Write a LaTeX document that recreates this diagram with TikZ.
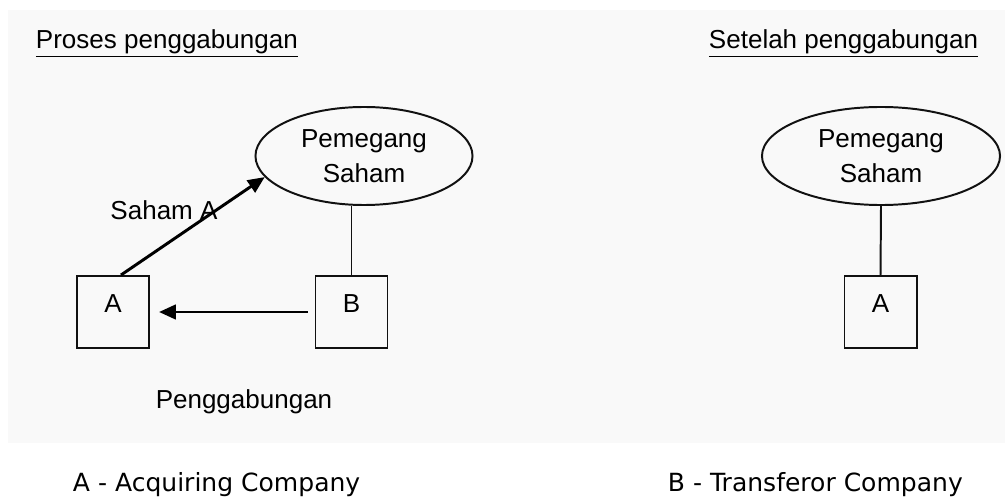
\documentclass[tikz,border=0pt]{standalone}
\usepackage{fontspec}
\setmainfont{Liberation Sans}
\newfontfamily\capfont{DejaVu Sans}
\usetikzlibrary{arrows.meta, positioning, shapes.geometric}
\definecolor{cbg}{HTML}{F9F9F9}
\definecolor{cline}{HTML}{111111}
\tikzset{
  every picture/.style={line width=1.4pt},
  box/.style={draw=cline, rectangle, minimum size=1.8cm, inner sep=0pt, text depth=0.4cm},
  holder/.style={draw=cline, ellipse, minimum height=2.45cm, inner sep=0pt, align=center},
  arrow/.style={-{Triangle[length=0.42cm, width=0.36cm]}, draw=black, line width=2.1pt},
  title/.style={inner sep=0pt, anchor=base west},
  caption/.style={font=\capfont\fontsize{17.8}{20}\selectfont, inner sep=0pt, anchor=west},
}

\begin{document}
\begin{tikzpicture}[x=0.025cm, y=-0.025cm, every node/.append style={font=\fontsize{18.5}{24.8}\selectfont}]
  \useasboundingbox (0,0) rectangle (1005,498);
  \fill[cbg] (8,10) rectangle (1005,443);
  % before the merger
  \node[title] (tproses) at (35,49) {\underline{Proses penggabungan}};
  \node[holder, minimum width=5.425cm] (pl) at (364,156) {Pemegang\\Saham};
  \node[box] (ca) at (113,312) {A};
  \node[box] (cb) at (351.5,312) {B};
  \draw[cline] (cb.north) -- (cb.north |- pl.south);
  \draw[arrow] ([xshift=0.2cm]ca.north) -- (pl.192);
  \draw[arrow, shorten <=0.175cm, shorten >=0.225cm] (cb.west) -- (ca.east);
  \node (lsaham) at (164,210) {Saham A};
  \node (lgabung) at (244,402) {Penggabungan};
  % after the merger
  \node[title] (tsetelah) at (708,49) {\underline{Setelah penggabungan}};
  \node[holder, minimum width=5.95cm] (pr) at (881,156) {Pemegang\\Saham};
  \node[box] (cr) at (880.5,312) {A};
  \draw[cline] (pr.south) -- (cr.north);
  % legend
  \node[caption] (capa) at (72,485) {A - Acquiring Company};
  \node[caption] (capb) at (667,485) {B - Transferor Company};
\end{tikzpicture}
\end{document}
